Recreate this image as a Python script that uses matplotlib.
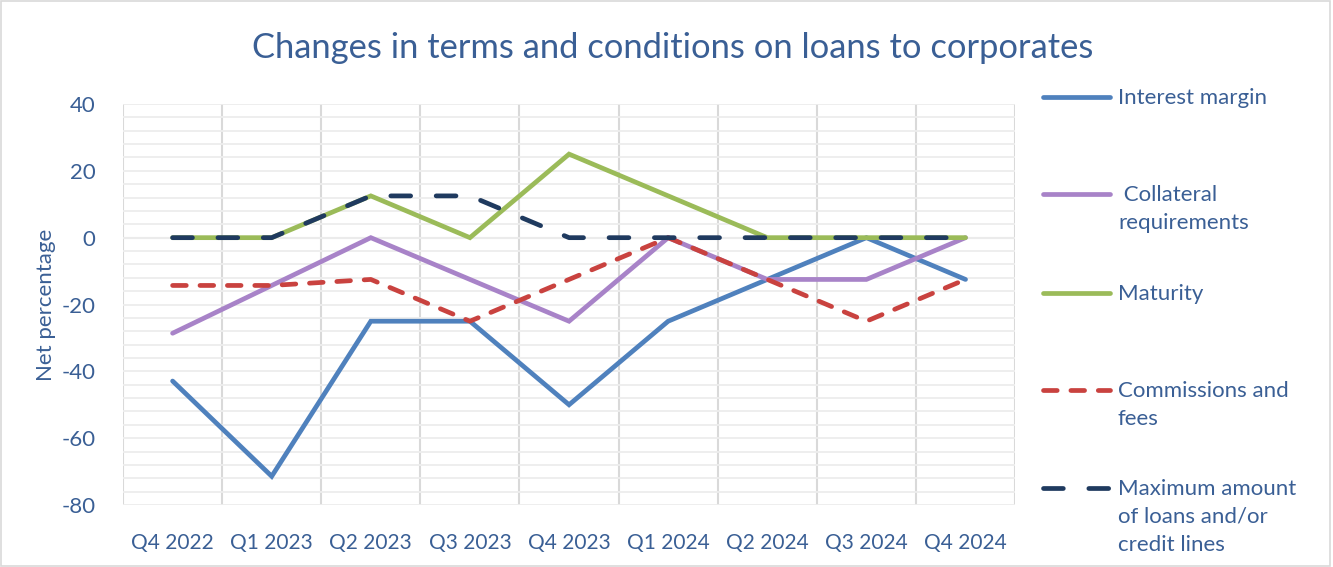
import matplotlib.pyplot as plt
from matplotlib.lines import Line2D
from matplotlib.patches import Rectangle
import numpy as np

plt.rcParams['font.family'] = ['Lato', 'DejaVu Sans']
plt.rcParams['axes.unicode_minus'] = False

quarters = ["Q4 2022", "Q1 2023", "Q2 2023", "Q3 2023", "Q4 2023",
            "Q1 2024", "Q2 2024", "Q3 2024", "Q4 2024"]

interest_margin = [-42.9, -71.4, -25, -25, -50, -25, -12.5, 0, -12.5]
collateral = [-28.6, -14.3, 0, -12.5, -25, 0, -12.5, -12.5, 0]
maturity = [0, 0, 12.5, 0, 25, 12.5, 0, 0, 0]
commissions = [-14.3, -14.3, -12.5, -25, -12.5, 0, -12.5, -25, -12.5]
max_amount = [0, 0, 12.5, 12.5, 0, 0, 0, 0, 0]

labels = ["Interest margin", " Collateral\nrequirements", "Maturity",
          "Commissions and\nfees", "Maximum amount\nof loans and/or\ncredit lines"]

text_col = "#3A5F95"

fig = plt.figure(figsize=(13.33, 5.67), dpi=100)
ax = fig.add_axes([0.0923, 0.1093, 0.6692, 0.7073])

x = np.arange(len(quarters))

styles = [
    dict(color="#4F81BD", lw=3.4, ls="-"),
    dict(color="#A883C8", lw=3.4, ls="-"),
    dict(color="#9BBB59", lw=3.4, ls="-"),
    dict(color="#C9423F", lw=3.4, ls=(0, (2.9, 2.9)), dash_capstyle="round"),
    dict(color="#1F3A5F", lw=3.4, ls=(0, (4.2, 5.4)), dash_capstyle="round"),
]
series = [interest_margin, collateral, maturity, commissions, max_amount]

for vals, st in zip(series, styles):
    ax.plot(x, vals, solid_capstyle="round", solid_joinstyle="miter", **st, zorder=3)

ax.set_xlim(-0.5, len(quarters) - 0.5)
ax.set_ylim(-80, 40)
ax.set_yticks(np.arange(-80, 41, 20))
ax.set_yticks(np.arange(-80, 41, 4), minor=True)
ax.grid(axis="y", which="both", color="#EDEDED", lw=1.3, zorder=0)
for xb in np.arange(-0.5, len(quarters), 1):
    ax.axvline(xb, color="#D9D9D9", lw=1.5, zorder=1)
ax.axhline(0, color="#D9D9D9", lw=1.5, zorder=1)

ax.set_xticks(x)
ax.set_xticklabels(quarters)
ax.tick_params(axis="both", which="both", length=0, labelsize=15, colors=text_col)
ax.tick_params(axis="x", pad=20)
ax.tick_params(axis="y", pad=20, labelsize=16)
for s in ax.spines.values():
    s.set_visible(False)

ax.set_ylabel("Net percentage", fontsize=16, color=text_col, labelpad=4)

fig.text(0.505, 0.915, "Changes in terms and conditions on loans to corporates",
         ha="center", va="center", fontsize=24.8, color=text_col)

# legend drawn by hand on the right
leg_y = [97, 194, 293, 390, 488]
for lab, st, yy in zip(labels, styles, leg_y):
    yf = 1 - yy / 567
    fig.add_artist(Line2D([1043 / 1333, 1110 / 1333], [yf, yf], transform=fig.transFigure,
                          solid_capstyle="round", **st))
    fig.text(1118 / 1333, yf + 0.016, lab, ha="left", va="top", fontsize=16, color=text_col,
             linespacing=1.5)

fig.add_artist(Rectangle((0.001, 0.001), 0.997, 0.997, transform=fig.transFigure,
                         fill=False, edgecolor="#D9D9D9", lw=1.2))

fig.savefig("out.png", dpi=100)
